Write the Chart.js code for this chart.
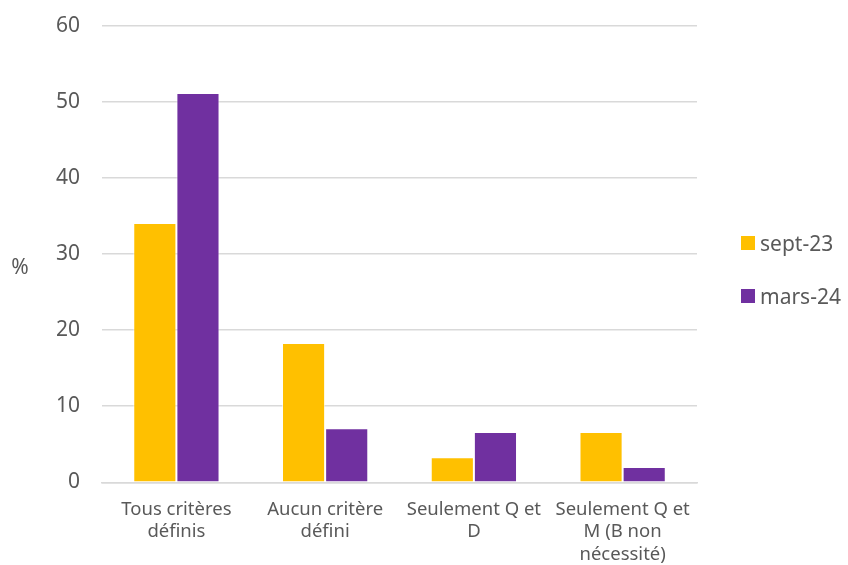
<!DOCTYPE html>
<html>
<head>
<meta charset="utf-8">
<script src="https://cdn.jsdelivr.net/npm/chart.js@4.4.1/dist/chart.umd.min.js"></script>
<style>
  html, body { margin: 0; padding: 0; background: #fff; }
  #wrap { position: relative; width: 848px; height: 565px; }
  #legend { position: absolute; left: 741px; top: 228px; font-family: "Noto Sans", sans-serif; font-size: 21px; color: #595959; }
  #legend div { display: flex; align-items: center; height: 30px; margin-bottom: 23px; }
  #legend span.box { display: inline-block; width: 14px; height: 14px; margin-right: 5px; }
</style>
</head>
<body>
<div id="wrap">
  <canvas id="c" width="848" height="565"></canvas>
  <div id="legend"></div>
</div>
<script>
// categories and values
const categories = [
  ['Tous critères', 'définis'],
  ['Aucun critère', 'défini'],
  ['Seulement Q et', 'D'],
  ['Seulement Q et', 'M (B non', 'nécessité)']
];
const seriesNames = ['sept-23', 'mars-24'];
const sept23 = [34.1, 18.3, 3.3, 6.6];
const mars24 = [51.2, 7.1, 6.6, 2.0];
const yTicks = [0, 10, 20, 30, 40, 50, 60];
const colors = ['#FFC000', '#7030A0'];

const textColor = '#595959';
const fontFamily = '"Noto Sans", sans-serif';

// draws the horizontal "%" axis title to the left of the ticks
const percentLabel = {
  id: 'percentLabel',
  afterDraw(chart) {
    const ctx = chart.ctx;
    ctx.save();
    ctx.fillStyle = textColor;
    ctx.font = '21px ' + fontFamily;
    ctx.textAlign = 'center';
    ctx.textBaseline = 'middle';
    ctx.fillText('%', 20, 268);
    ctx.restore();
  }
};

const datasets = [sept23, mars24].map((vals, i) => ({
  label: seriesNames[i],
  data: vals,
  backgroundColor: colors[i],
  borderColor: 'rgba(255,255,255,0.6)',
  borderWidth: 1,
  barPercentage: 1.0,
  categoryPercentage: 0.58
}));

const chart = new Chart(document.getElementById('c'), {
  type: 'bar',
  data: { labels: categories, datasets: datasets },
  options: {
    responsive: false,
    animation: false,
    layout: { padding: { left: 34, right: 151, top: 26, bottom: -9 } },
    plugins: {
      legend: { display: false },
      tooltip: { enabled: false }
    },
    scales: {
      x: {
        grid: { display: false },
        border: { display: true, color: '#d9d9d9', width: 1.5 },
        ticks: { color: textColor, font: { family: fontFamily, size: 18.5, lineHeight: 1.22 }, padding: 8, maxRotation: 0, autoSkip: false }
      },
      y: {
        min: 0,
        max: 60,
        afterBuildTicks(axis) { axis.ticks = yTicks.map(v => ({ value: v })); },
        grid: { color: '#d9d9d9', lineWidth: 1.5, drawTicks: false },
        border: { display: false },
        // small lineHeight so the top label does not push the plot down
        ticks: { color: textColor, font: { family: fontFamily, size: 21, lineHeight: 0.2 }, padding: 22 }
      }
    }
  },
  plugins: [percentLabel]
});

// legend from the dataset names and colours
const legend = document.getElementById('legend');
seriesNames.forEach((name, i) => {
  const row = document.createElement('div');
  row.innerHTML = '<span class="box" style="background:' + colors[i] + '"></span>' + name;
  legend.appendChild(row);
});
</script>
</body>
</html>
